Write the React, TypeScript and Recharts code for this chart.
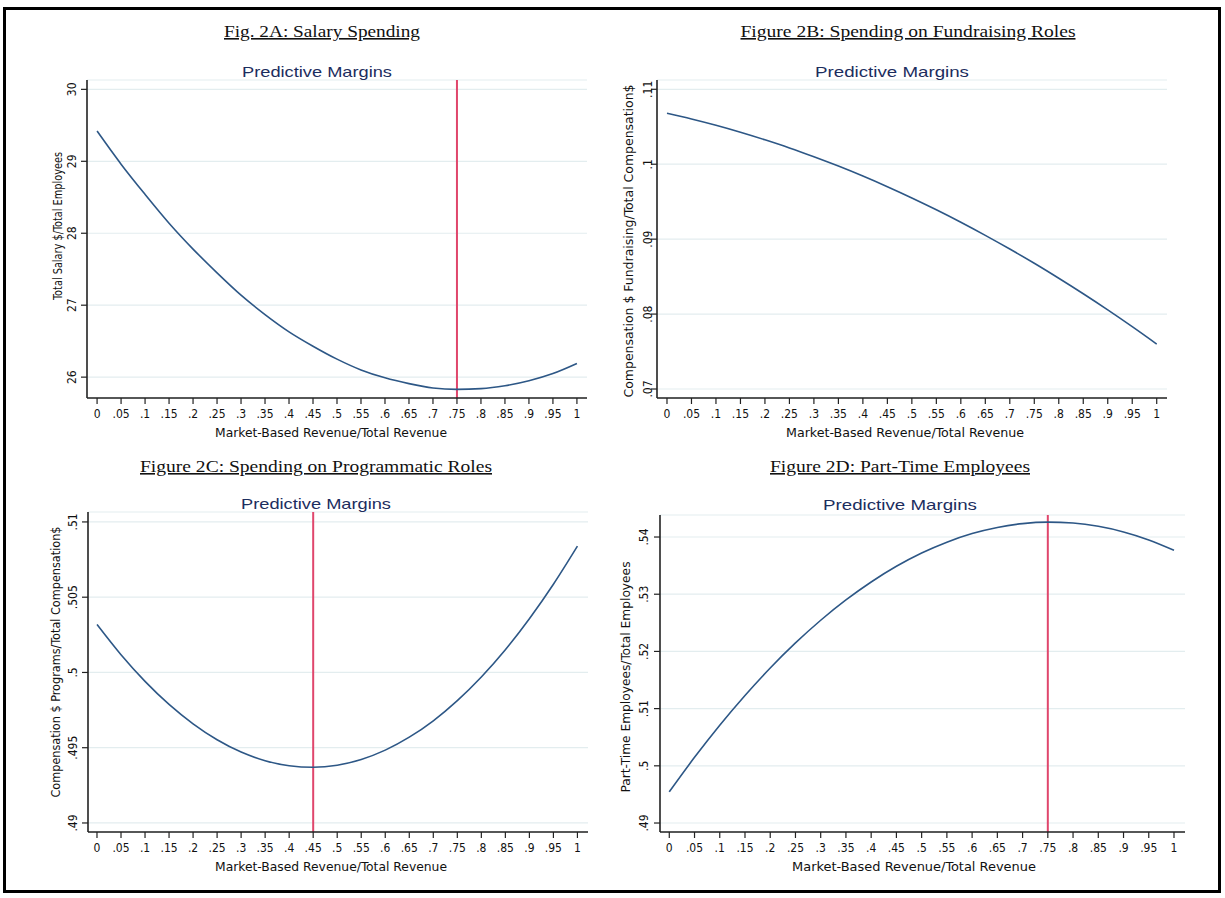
import React from 'react';
import { LineChart, Line, XAxis, YAxis, CartesianGrid, ReferenceLine } from 'recharts';

const xValues = [0, 0.05, 0.1, 0.15, 0.2, 0.25, 0.3, 0.35, 0.4, 0.45, 0.5, 0.55, 0.6, 0.65, 0.7, 0.75, 0.8, 0.85, 0.9, 0.95, 1];
const xTicks = [0, 0.05, 0.1, 0.15, 0.2, 0.25, 0.3, 0.35, 0.4, 0.45, 0.5, 0.55, 0.6, 0.65, 0.7, 0.75, 0.8, 0.85, 0.9, 0.95, 1];

const salarySpending = [29.42, 28.96, 28.54, 28.14, 27.78, 27.45, 27.14, 26.87, 26.63, 26.43, 26.25, 26.10, 25.99, 25.91, 25.85, 25.83, 25.84, 25.88, 25.95, 26.05, 26.19];
const fundraisingShare = [0.1068, 0.10604, 0.1052, 0.10427, 0.10326, 0.10218, 0.101, 0.09975, 0.09842, 0.097, 0.0955, 0.09392, 0.09226, 0.09051, 0.08868, 0.08678, 0.08478, 0.08271, 0.08056, 0.07832, 0.076];
const programmaticShare = [0.50319, 0.50118, 0.49941, 0.49788, 0.49659, 0.49553, 0.49471, 0.49414, 0.4938, 0.4937, 0.49384, 0.49422, 0.49484, 0.4957, 0.49679, 0.49813, 0.4997, 0.50151, 0.50357, 0.50586, 0.50839];
const partTimeShare = [0.49545, 0.50148, 0.5071, 0.5123, 0.5171, 0.52148, 0.52545, 0.529, 0.53214, 0.53488, 0.5372, 0.5391, 0.5406, 0.54167, 0.54234, 0.5426, 0.54244, 0.54187, 0.54089, 0.5395, 0.53769];

const yTicksA = [26, 27, 28, 29, 30];
const yTicksB = [0.07, 0.08, 0.09, 0.1, 0.11];
const yTicksC = [0.49, 0.495, 0.5, 0.505, 0.51];
const yTicksD = [0.49, 0.5, 0.51, 0.52, 0.53, 0.54];

const vlineA = 0.75;
const vlineC = 0.45;
const vlineD = 0.75;

const titles = [
  'Fig. 2A: Salary Spending',
  'Figure 2B: Spending on Fundraising Roles',
  'Figure 2C: Spending on Programmatic Roles',
  'Figure 2D: Part-Time Employees',
];
const subtitle = 'Predictive Margins';
const xTitle = 'Market-Based Revenue/Total Revenue';
const yTitles = [
  'Total Salary $/Total Employees',
  'Compensation $ Fundraising/Total Compensation$',
  'Compensation $ Programs/Total Compensation$',
  'Part-Time Employees/Total Employees',
];

const build = (ys: number[]) => xValues.map((x, i) => ({ x, y: ys[i] }));

const fmt = (v: number) => {
  const s = String(Math.round(v * 1000) / 1000);
  return s.startsWith('0.') ? s.slice(1) : s;
};

const TICK_FONT = "'Liberation Sans Narrow','DejaVu Sans Condensed','Liberation Sans',Arial,sans-serif";
const SANS = "'Liberation Sans',Arial,sans-serif";
const SERIF = "'Liberation Serif','Times New Roman',serif";

type PanelProps = {
  ys: number[];
  yDomain: [number, number];
  yTicks: number[];
  xDomain: [number, number];
  vline?: number;
  left: number;
  top: number;
  w: number;
  h: number;
  yLabelOff: number;
};

function Panel({ ys, yDomain, yTicks, xDomain, vline, left, top, w, h, yLabelOff }: PanelProps) {
  const mL = 60, mT = 10, mR = 12, xH = 40;
  const data = build(ys);
  const XTick = (p: any) => (
    <text x={p.x} y={p.y + 8} textAnchor="middle" dominantBaseline="central" fontFamily={TICK_FONT} fontSize={12} fill="#111">
      {fmt(p.payload.value)}
    </text>
  );
  const YTick = (p: any) => {
    const cx = left - yLabelOff - (left - mL) ;
    return (
      <text x={cx} y={p.y} transform={`rotate(-90 ${cx} ${p.y})`} textAnchor="middle" dominantBaseline="central" fontFamily={TICK_FONT} fontSize={12} fill="#111">
        {fmt(p.payload.value)}
      </text>
    );
  };
  return (
    <div style={{ position: 'absolute', left: left - mL, top: top - mT }}>
      <LineChart width={mL + w + mR} height={mT + h + xH + 5} data={data} margin={{ top: mT, right: mR, bottom: 5, left: 0 }}>
        <CartesianGrid horizontal vertical={false} stroke="#e3edef" strokeWidth={1.2} />
        <XAxis
          type="number"
          dataKey="x"
          domain={xDomain}
          ticks={xTicks}
          interval={0}
          allowDataOverflow
          height={xH}
          tick={XTick}
          tickSize={6}
          axisLine={{ stroke: '#222', strokeWidth: 1.4 }}
          tickLine={{ stroke: '#222', strokeWidth: 1.2 }}
        />
        <YAxis
          type="number"
          domain={yDomain}
          ticks={yTicks}
          interval={0}
          allowDataOverflow
          width={mL}
          tick={YTick}
          tickSize={6}
          axisLine={{ stroke: '#222', strokeWidth: 1.6 }}
          tickLine={{ stroke: '#222', strokeWidth: 1.2 }}
        />
        {vline !== undefined && <ReferenceLine x={vline} stroke="#e0466c" strokeWidth={2} ifOverflow="visible" />}
        <Line type="monotone" dataKey="y" stroke="#2d5786" strokeWidth={1.6} dot={false} isAnimationActive={false} />
      </LineChart>
    </div>
  );
}

export default function App() {
  const titlePos = [
    { x: 322, y: 37, len: 196 },
    { x: 908, y: 37, len: 335 },
    { x: 316, y: 472, len: 352 },
    { x: 900, y: 472, len: 260 },
  ];
  const subPos = [
    { x: 317, y: 71, len: 150 },
    { x: 892, y: 71, len: 154 },
    { x: 316, y: 503, len: 150 },
    { x: 900, y: 504, len: 154 },
  ];
  const xTitlePos = [
    { x: 331, y: 432, len: 232 },
    { x: 905, y: 432, len: 238 },
    { x: 331, y: 866, len: 232 },
    { x: 914, y: 866, len: 244 },
  ];
  const yTitlePos = [
    { x: 57, y: 226, len: 148 },
    { x: 628, y: 241, len: 313 },
    { x: 55, y: 662, len: 271 },
    { x: 625, y: 677, len: 231 },
  ];
  return (
    <div style={{ position: 'absolute', left: 0, top: 0, width: 1225, height: 898, background: '#fff', overflow: 'hidden' }}>
      <div style={{ position: 'absolute', left: 3, top: 7, width: 1218, height: 886, border: '3px solid #000', boxSizing: 'border-box' }} />
      <Panel ys={salaryPending()} yDomain={[25.71, 30.13]} yTicks={yTicksA} xDomain={[-0.021, 1.021]} vline={vlineA} left={87} top={80} w={500} h={318} yLabelOff={15} />
      <Panel ys={fundraisingShare} yDomain={[0.0688, 0.11124]} yTicks={yTicksB} xDomain={[-0.0204, 1.021]} left={657} top={80} w={510} h={318} yLabelOff={9} />
      <Panel ys={programmaticShare} yDomain={[0.4894, 0.51066]} yTicks={yTicksC} xDomain={[-0.0187, 1.022]} vline={vlineC} left={88} top={512} w={500} h={320} yLabelOff={15} />
      <Panel ys={partTimeShare} yDomain={[0.48843, 0.54385]} yTicks={yTicksD} xDomain={[-0.0184, 1.0218]} vline={vlineD} left={660} top={515} w={525} h={317} yLabelOff={16} />
      <svg width={1225} height={898} style={{ position: 'absolute', left: 0, top: 0, pointerEvents: 'none' }}>
        {titles.map((t, i) => (
          <text key={'t' + i} x={titlePos[i].x} y={titlePos[i].y} textAnchor="middle" fontFamily={SERIF} fontSize={16} fill="#111" textDecoration="underline" textLength={titlePos[i].len} lengthAdjust="spacingAndGlyphs">{t}</text>
        ))}
        {subPos.map((p, i) => (
          <text key={'s' + i} x={p.x} y={p.y} textAnchor="middle" dominantBaseline="central" fontFamily={SANS} fontSize={15} fill="#1c2d5e" textLength={p.len} lengthAdjust="spacingAndGlyphs">{subtitle}</text>
        ))}
        {xTitlePos.map((p, i) => (
          <text key={'x' + i} x={p.x} y={p.y} textAnchor="middle" dominantBaseline="central" fontFamily={TICK_FONT} fontSize={13} fill="#111" textLength={p.len} lengthAdjust="spacingAndGlyphs">{xTitle}</text>
        ))}
        {yTitlePos.map((p, i) => (
          <text key={'y' + i} x={p.x} y={p.y} transform={`rotate(-90 ${p.x} ${p.y})`} textAnchor="middle" dominantBaseline="central" fontFamily={TICK_FONT} fontSize={13} fill="#111" textLength={p.len} lengthAdjust="spacingAndGlyphs">{yTitles[i]}</text>
        ))}
      </svg>
    </div>
  );
}

function salaryPending() {
  return salarySpending;
}
